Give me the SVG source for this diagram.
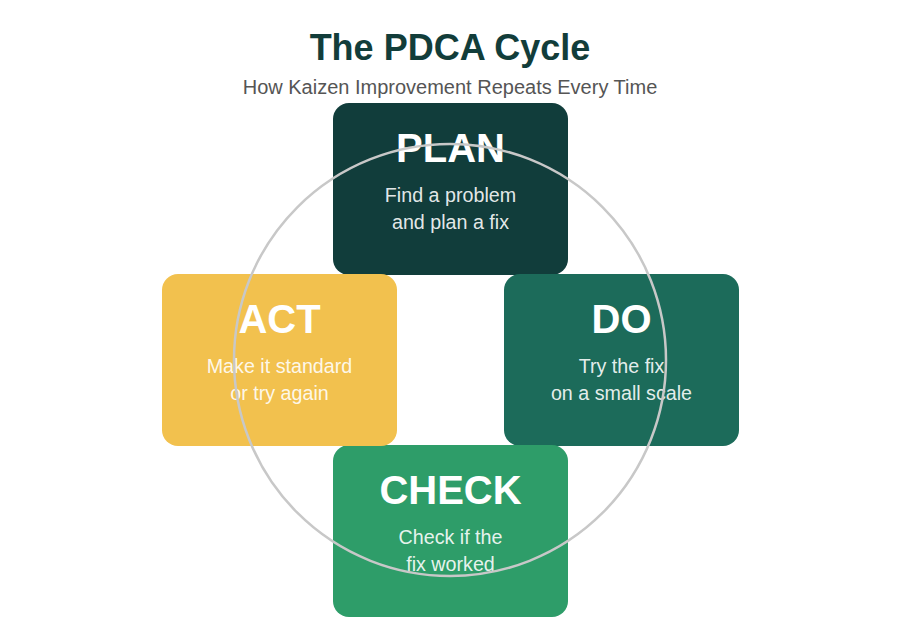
<svg xmlns="http://www.w3.org/2000/svg" width="900" height="630" viewBox="0 0 900 630">
<style>
.title{font-family:"Liberation Sans",Arial,sans-serif;font-weight:bold;font-size:36px;fill:#123d3a;text-anchor:middle}
.sub{font-family:"Liberation Sans",Arial,sans-serif;font-size:20px;fill:#555;text-anchor:middle}
.h{font-family:"Liberation Sans",Arial,sans-serif;font-weight:bold;font-size:40px;fill:#fff;text-anchor:middle}
.d{font-family:"Liberation Sans",Arial,sans-serif;font-size:19.7px;fill:#fff;fill-opacity:0.9;text-anchor:middle}
</style>
<rect width="900" height="630" fill="#fff"/>
<text class="title" x="450" y="60">The PDCA Cycle</text>
<text class="sub" x="450" y="94">How Kaizen Improvement Repeats Every Time</text>
<g id="plan">
<rect x="333" y="103" width="235" height="172" rx="16" fill="#113d3b"/>
<text class="h" x="450.5" y="162">PLAN</text>
<text class="d" x="450.5" y="202">Find a problem</text>
<text class="d" x="450.5" y="229">and plan a fix</text>
</g>
<g id="do">
<rect x="504" y="274" width="235" height="172" rx="16" fill="#1c6b5a"/>
<text class="h" x="621.5" y="333">DO</text>
<text class="d" x="621.5" y="373">Try the fix</text>
<text class="d" x="621.5" y="400">on a small scale</text>
</g>
<g id="check">
<rect x="333" y="445" width="235" height="172" rx="16" fill="#2e9d69"/>
<text class="h" x="450.5" y="504">CHECK</text>
<text class="d" x="450.5" y="544">Check if the</text>
<text class="d" x="450.5" y="571">fix worked</text>
</g>
<g id="act">
<rect x="162" y="274" width="235" height="172" rx="16" fill="#f2c14e"/>
<text class="h" x="279.5" y="333">ACT</text>
<text class="d" x="279.5" y="373">Make it standard</text>
<text class="d" x="279.5" y="400">or try again</text>
</g>
<g id="connectors">
<circle cx="450" cy="360" r="216" fill="none" stroke="#c8c8c8" stroke-width="2.5"/>
</g>
</svg>
